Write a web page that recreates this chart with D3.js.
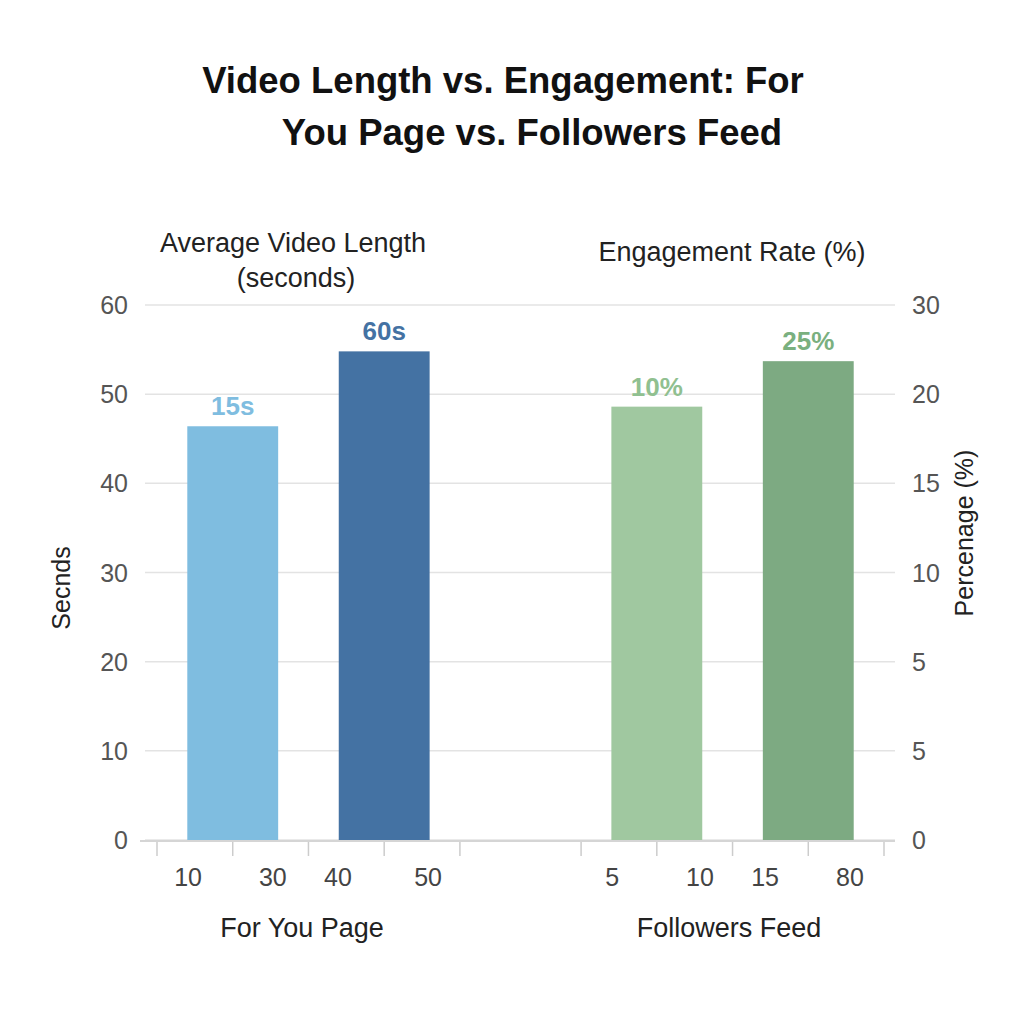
<!DOCTYPE html>
<html><head><meta charset="utf-8">
<script src="https://cdn.jsdelivr.net/npm/d3@7"></script>
<style>body{margin:0;background:#fff;font-family:"Liberation Sans",Arial,sans-serif}</style>
</head><body>
<svg id="c" width="1024" height="1024"></svg>
<script>
const leftTicks = [0, 10, 20, 30, 40, 50, 60];
const rightTickLabels = ['0', '5', '5', '10', '15', '20', '30'];
const bars = [
  { pos: 1, value: 46.4, label: '15s', color: '#7fbde0', text: '#7fbde0' },
  { pos: 3, value: 54.8, label: '60s', color: '#4472a3', text: '#4472a3' },
  { pos: 6.6, value: 48.6, label: '10%', color: '#a0c8a0', text: '#90c090' },
  { pos: 8.6, value: 53.7, label: '25%', color: '#7daa82', text: '#7ab07f' }
];
const tickPositions = [0, 1, 2, 3, 4, 5.6, 6.6, 7.6, 8.6, 9.6];
const xLabels = ['10', '30', '40', '50', '5', '10', '15', '80'];
const xLabelPos = [0.41, 1.53, 2.39, 3.58, 6.01, 7.17, 8.03, 9.15];

const svg = d3.select('#c');
const x = d3.scaleLinear().domain([0, 9.6]).range([157, 884]);
const y = d3.scaleLinear().domain([0, 60]).range([840, 305]);

svg.selectAll('.grid').data(leftTicks).enter().append('line')
  .attr('x1', 145).attr('x2', 895).attr('y1', d => y(d)).attr('y2', d => y(d))
  .attr('stroke', '#e3e3e3').attr('stroke-width', 1.5);

svg.selectAll('.lt').data(leftTicks).enter().append('text')
  .attr('x', 128).attr('y', d => y(d) + 9).attr('text-anchor', 'end')
  .attr('font-size', 25).attr('fill', '#555').text(d => d);
svg.selectAll('.rt').data(rightTickLabels).enter().append('text')
  .attr('x', 912).attr('y', (d, i) => y(leftTicks[i]) + 9)
  .attr('font-size', 25).attr('fill', '#555').text(d => d);

svg.selectAll('.bar').data(bars).enter().append('rect')
  .attr('x', d => x(d.pos - 0.6)).attr('width', x(1.2) - x(0))
  .attr('y', d => y(d.value)).attr('height', d => y(0) - y(d.value))
  .attr('fill', d => d.color);
svg.selectAll('.bl').data(bars).enter().append('text')
  .attr('x', d => x(d.pos)).attr('y', d => y(d.value) - 11)
  .attr('text-anchor', 'middle').attr('font-size', 26).attr('font-weight', 'bold')
  .attr('fill', d => d.text).text(d => d.label);

svg.append('line').attr('x1', 140).attr('x2', 895).attr('y1', 841).attr('y2', 841)
  .attr('stroke', '#d5d5d5').attr('stroke-width', 2);
svg.selectAll('.tk').data(tickPositions).enter().append('line')
  .attr('x1', d => x(d)).attr('x2', d => x(d)).attr('y1', 842).attr('y2', 856)
  .attr('stroke', '#ccc').attr('stroke-width', 1.5);
svg.selectAll('.xl').data(xLabels).enter().append('text')
  .attr('x', (d, i) => x(xLabelPos[i])).attr('y', 886).attr('text-anchor', 'middle')
  .attr('font-size', 25).attr('fill', '#444').text(d => d);

const t = (tx, ty, s, size, opts = {}) => svg.append('text').attr('x', tx).attr('y', ty)
  .attr('text-anchor', 'middle').attr('font-size', size).attr('fill', opts.fill || '#222')
  .attr('font-weight', opts.bold ? 'bold' : 'normal')
  .attr('transform', opts.rot ? `rotate(-90,${tx},${ty})` : null).text(s);

t(503, 93, 'Video Length vs. Engagement: For', 36.5, { bold: true, fill: '#111' });
t(532, 145, 'You Page vs. Followers Feed', 36.5, { bold: true, fill: '#111' });
t(293, 252, 'Average Video Length', 27);
t(296, 287, '(seconds)', 27);
t(732, 261, 'Engagement Rate (%)', 27);
t(70, 588, 'Secnds', 25, { rot: true });
t(973, 533, 'Percenage (%)', 25, { rot: true });
t(302, 937, 'For You Page', 27);
t(729, 937, 'Followers Feed', 27);
</script>
</body></html>
